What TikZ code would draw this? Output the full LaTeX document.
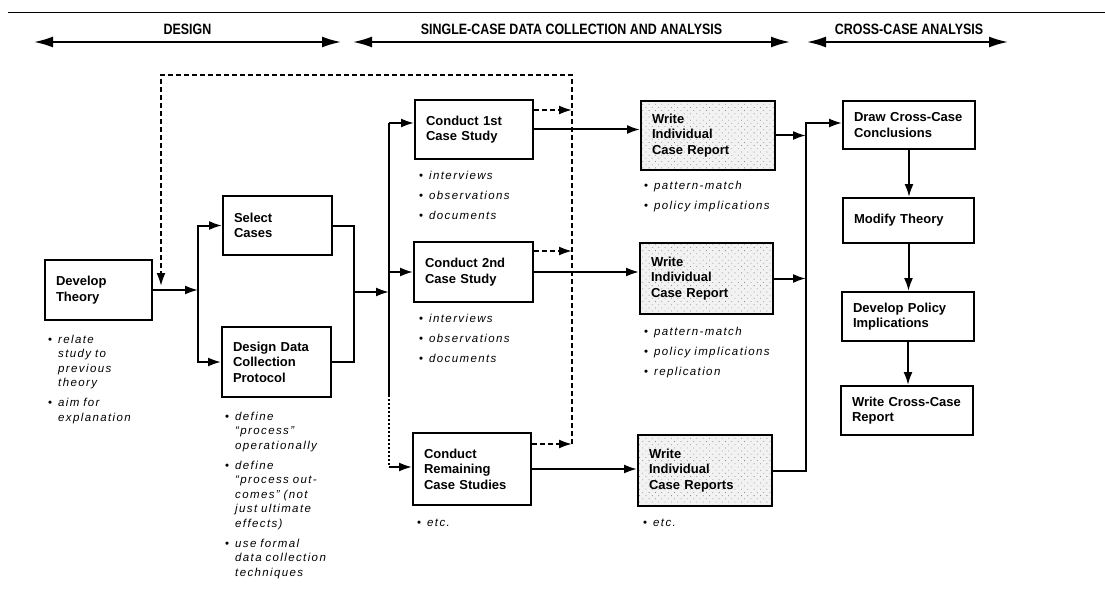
\documentclass[tikz,border=0pt]{standalone}
\usepackage{fontspec}
\setmainfont{Liberation Sans}
\newfontfamily\hdrfont{Liberation Sans}[FakeStretch=0.83]
\newfontfamily\notefont{Liberation Sans}[LetterSpace=12]
\usetikzlibrary{arrows.meta,patterns.meta}

% bullet item with hanging indent; lines inside an item are split with \newline
\newcommand{\bitem}[1]{\par\hangindent=10pt\hangafter=1\noindent\makebox[10pt][l]{\upshape\textbullet}#1\par}

\begin{document}
\begin{tikzpicture}[x=1pt,y=-1pt,
  stepbox/.style={draw, line width=2pt, inner xsep=11pt, inner ysep=0pt, align=left,
    font=\bfseries\fontsize{13}{15.5}\selectfont},
  reportbox/.style={stepbox, preaction={fill=black!5},
    pattern={Dots[distance=4.5pt,radius=0.55pt,angle=45]}, pattern color=black!45},
  notes/.style={inner sep=0pt, anchor=base west, text width=160pt,
    font=\notefont\itshape\fontsize{11.5}{14.5}\selectfont,
    execute at begin node={\setlength{\parskip}{5.5pt}}},
  hdr/.style={inner sep=0pt, font=\hdrfont\bfseries\fontsize{15}{18}\selectfont},
  conn/.style={line width=2pt},
  arr/.style={-{Latex[length=13pt,width=9pt]}},
  harr/.style={line width=1.9pt, {Latex[length=19pt,width=11pt]}-{Latex[length=19pt,width=11pt]}},
  dline/.style={line width=2pt, dash pattern=on 5pt off 3pt},
  dotline/.style={line width=2.2pt, dash pattern=on 1.6pt off 2.4pt}
]
\useasboundingbox (0,0) rectangle (1105,607);

% ---- top rule and phase headings ----
\coordinate (ruleL) at (8,12.5);
\coordinate (ruleR) at (1105,12.5);
\draw[line width=1.8pt] (ruleL) -- (ruleR);

\node[hdr] (hdDesign) at (187.5,29) {DESIGN};
\coordinate (hdDesignL) at (34,42);
\coordinate (hdDesignR) at (341,42);
\draw[harr] (hdDesignL) -- (hdDesignR);

\node[hdr] (hdSingle) at (571.5,29) {SINGLE-CASE DATA COLLECTION AND ANALYSIS};
\coordinate (hdSingleL) at (353,42);
\coordinate (hdSingleR) at (790,42);
\draw[harr] (hdSingleL) -- (hdSingleR);

\node[hdr] (hdCross) at (909,29) {CROSS-CASE ANALYSIS};
\coordinate (hdCrossL) at (807,42);
\coordinate (hdCrossR) at (1008,42);
\draw[harr] (hdCrossL) -- (hdCrossR);

% ---- design phase ----
\node[stepbox, text width=85pt, minimum height=60pt] (dt) at (98.5,290) {Develop\\Theory};
\node[stepbox, text width=87pt, minimum height=59pt] (sc) at (277.5,225.5) {Select\\Cases};
\node[stepbox, text width=87pt, minimum height=70pt] (dd) at (276.5,362) {Design Data\\Collection\\Protocol};

\node[notes] (dtn) at (48,323) {%
  \bitem{relate\newline study to\newline previous\newline theory}
  \bitem{aim for\newline explanation}};
\node[notes] (ddn) at (225,400) {%
  \bitem{define\newline “process”\newline operationally}
  \bitem{define\newline “process out-\newline comes” (not\newline just ultimate\newline effects)}
  \bitem{use formal\newline data collection\newline techniques}};

% ---- single-case phase ----
\node[stepbox, text width=96pt, minimum height=59pt] (c1) at (474,129.5) {Conduct 1st\\Case Study};
\node[stepbox, text width=97pt, minimum height=60pt] (c2) at (473.5,272) {Conduct 2nd\\Case Study};
\node[stepbox, text width=96pt, minimum height=72pt] (cr) at (472,469) {Conduct\\Remaining\\Case Studies};

\node[notes] (c1n) at (419,159) {\bitem{interviews}\bitem{observations}\bitem{documents}};
\node[notes] (c2n) at (419,302) {\bitem{interviews}\bitem{observations}\bitem{documents}};
\node[notes] (crn) at (417,506) {\bitem{etc.}};

\node[reportbox, text width=112pt, minimum height=69pt] (w1) at (708,135.5) {Write\\Individual\\Case Report};
\node[reportbox, text width=111pt, minimum height=71pt] (w2) at (706.5,278.5) {Write\\Individual\\Case Report};
\node[reportbox, text width=112pt, minimum height=71pt] (w3) at (705,470.5) {Write\\Individual\\Case Reports};

\node[notes] (w1n) at (644,169) {\bitem{pattern-match}\bitem{policy implications}};
\node[notes] (w2n) at (644,315) {\bitem{pattern-match}\bitem{policy implications}\bitem{replication}};
\node[notes] (w3n) at (643,506) {\bitem{etc.}};

% ---- cross-case phase ----
\node[stepbox, text width=110pt, minimum height=48pt] (dc) at (909,125) {Draw Cross-Case\\Conclusions};
\node[stepbox, text width=109pt, minimum height=45pt] (mt) at (908.5,220.5) {Modify Theory};
\node[stepbox, text width=110pt, minimum height=49pt] (dp) at (908,316.5) {Develop Policy\\Implications};
\node[stepbox, text width=110pt, minimum height=49pt] (wc) at (907,410.5) {Write Cross-Case\\Report};

% ---- junction points ----
\coordinate (s1) at (198,290);
\coordinate (s2) at (354,292);
\coordinate (s3) at (389,292);
\coordinate (s3b) at (389,395);
\coordinate (s4) at (806,123);
\coordinate (lp) at (572,75);
\coordinate (lq) at (161,75);
\coordinate (c1in) at ([yshift=6.5pt]c1.west);
\coordinate (crin) at ([yshift=2pt]cr.west);
\coordinate (dcin) at ([yshift=2pt]dc.west);

% design connectors
\draw[conn,arr] (dt.east) -- (dt.east -| s1);
\draw[conn,arr] (dt.east -| s1) |- (sc.west);
\draw[conn,arr] (dt.east -| s1) |- (dd.west);
\draw[conn] (sc.east) -| (s2) |- (dd.east);
\draw[conn,arr] (s2) -- (s3);

% split to the case studies
\draw[conn] (s3 |- c1in) -- (s3b);
\draw[conn,arr] (s3 |- c1in) -- (c1in);
\draw[conn,arr] (s3 |- c2.west) -- (c2.west);
\draw[dotline] (s3b) -- (s3 |- crin);
\draw[conn,arr] (s3 |- crin) -- (crin);

% case studies to case reports
\draw[conn,arr] (c1.east) -- (c1.east -| w1.west);
\draw[conn,arr] (c2.east) -- (c2.east -| w2.west);
\draw[conn,arr] (cr.east) -- (cr.east -| w3.west);

% feedback loop (dashed)
\draw[dline,arr] ([yshift=19.5pt]c1.east) -- ([yshift=19.5pt]c1.east -| lp);
\draw[dline,arr] ([yshift=21pt]c2.east) -- ([yshift=21pt]c2.east -| lp);
\draw[dline,arr] ([yshift=25pt]cr.east) -- ([yshift=25pt]cr.east -| lp);
\draw[dline,arr] ([yshift=25pt]cr.east -| lp) -- (lp) -- (lq) -- ([yshift=4pt]lq |- dt.east);

% case reports to cross-case conclusions
\draw[conn,arr] (w1.east) -- (w1.east -| s4);
\draw[conn,arr] (w2.east) -- (w2.east -| s4);
\draw[conn,arr] (w3.east) -| (s4 |- dcin) -- (dcin);

% cross-case chain
\draw[conn,arr] (dc.south) -- (dc.south |- mt.north);
\draw[conn,arr] (mt.south) -- (mt.south |- dp.north);
\draw[conn,arr] (dp.south) -- (dp.south |- wc.north);
\end{tikzpicture}
\end{document}
